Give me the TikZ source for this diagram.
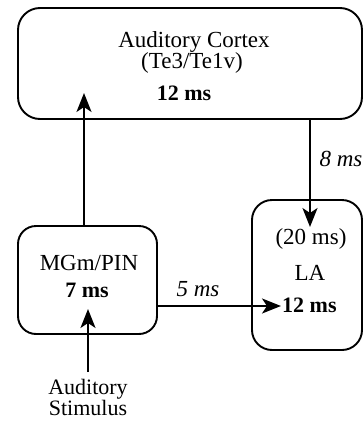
\documentclass[tikz,border=0pt]{standalone}
\usepackage{fontspec}
\setmainfont{Liberation Serif}
\usetikzlibrary{arrows.meta}
\begin{document}
\begin{tikzpicture}[x=1pt,y=-1pt,
  box/.style={draw,line width=1.9pt,inner sep=0pt},
  lbl/.style={anchor=base,inner sep=0pt,font=\fontsize{23}{23}\selectfont},
  conn/.style={line width=1.9pt,-{Stealth[length=19pt,width=15pt,inset=5pt]}}]
\useasboundingbox (0,0) rectangle (364,421);
% boxes
\node[box,rounded corners=22pt,minimum width=344pt,minimum height=111pt] (ctx) at (190,63.5) {};
\node[box,rounded corners=20pt,minimum width=110pt,minimum height=150pt] (la) at (307,275) {};
\node[box,rounded corners=18pt,minimum width=139pt,minimum height=108pt] (mg) at (87.5,280) {};
% texts
\node[lbl] (ctx1) at (194,47) {Auditory Cortex};
\node[lbl] (ctx2) at (192,68) {(Te3/Te1v)};
\node[lbl,font=\fontsize{22}{22}\selectfont\bfseries] (ctx3) at (184,100) {12 ms};
\node[lbl,font=\fontsize{23}{23}\selectfont\itshape] (l8) at (341,166) {8 ms};
\node[lbl] (la1) at (311,244) {(20 ms)};
\node[lbl] (la2) at (310,280) {LA};
\node[lbl,font=\fontsize{22}{22}\selectfont\bfseries,anchor=base west] (la3) at (282,312) {12 ms};
\node[lbl,font=\fontsize{23}{23}\selectfont\itshape] (l5) at (198,296) {5 ms};
\node[lbl] (mg1) at (89,270) {MGm/PIN};
\node[lbl,font=\fontsize{22}{22}\selectfont\bfseries] (mg2) at (87,297) {7 ms};
\node[lbl,font=\fontsize{22}{22}\selectfont] (st1) at (88,394) {Auditory};
\node[lbl,font=\fontsize{22}{22}\selectfont] (st2) at (88,415.5) {Stimulus};
% connector ends
\coordinate (mgtop) at (84,226);
\coordinate (ctxin) at (84,93);
\coordinate (ctxbot) at (310,119);
\coordinate (lain) at (310,227);
\coordinate (mgright) at (157,306);
\coordinate (lawest) at (281,306);
\coordinate (stimtop) at (88,372);
\coordinate (mgin) at (88,309);
% connectors
\draw[conn] (mgtop) -- (ctxin);
\draw[conn] (ctxbot) -- (lain);
\draw[conn] (mgright) -- (lawest);
\draw[conn] (stimtop) -- (mgin);
\end{tikzpicture}
\end{document}
